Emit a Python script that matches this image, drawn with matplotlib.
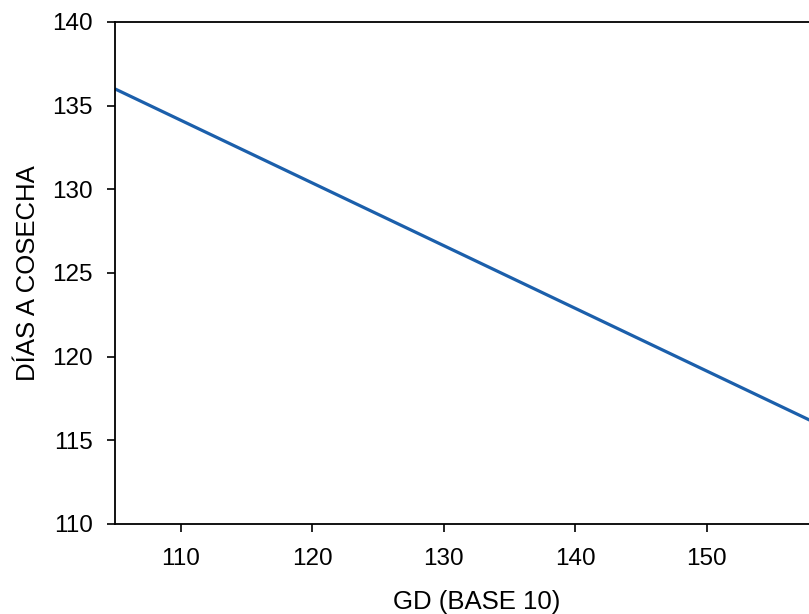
import matplotlib.pyplot as plt

plt.rcParams['font.family'] = ['Liberation Sans', 'DejaVu Sans']

# recta de regresión: días a cosecha vs grados día
gd = [105, 160]
dias = [136.0, 115.4]

xticks = [110, 120, 130, 140, 150]
yticks = [110, 115, 120, 125, 130, 135, 140]

fig = plt.figure(figsize=(8.09, 6.14), dpi=100)
ax = fig.add_axes([0.1422, 0.1466, 0.8937, 0.8176])

ax.plot(gd, dias, color='#1b5fab', linewidth=2.3, solid_capstyle='butt')

ax.set_xlim(105, 160)
ax.set_ylim(110, 140)
ax.set_xticks(xticks)
ax.set_yticks(yticks)
ax.tick_params(direction='out', length=6, width=1.2, labelsize=17.5)
ax.tick_params(axis='x', pad=11)
ax.tick_params(axis='y', pad=10)

ax.spines['right'].set_visible(False)
for s in ['left', 'bottom', 'top']:
    ax.spines[s].set_linewidth(1.3)

ax.set_xlabel('GD (BASE 10)', fontsize=18.5, labelpad=15)
ax.set_ylabel('DÍAS A COSECHA', fontsize=18.5, labelpad=9)

fig.savefig('out.png', dpi=100)
